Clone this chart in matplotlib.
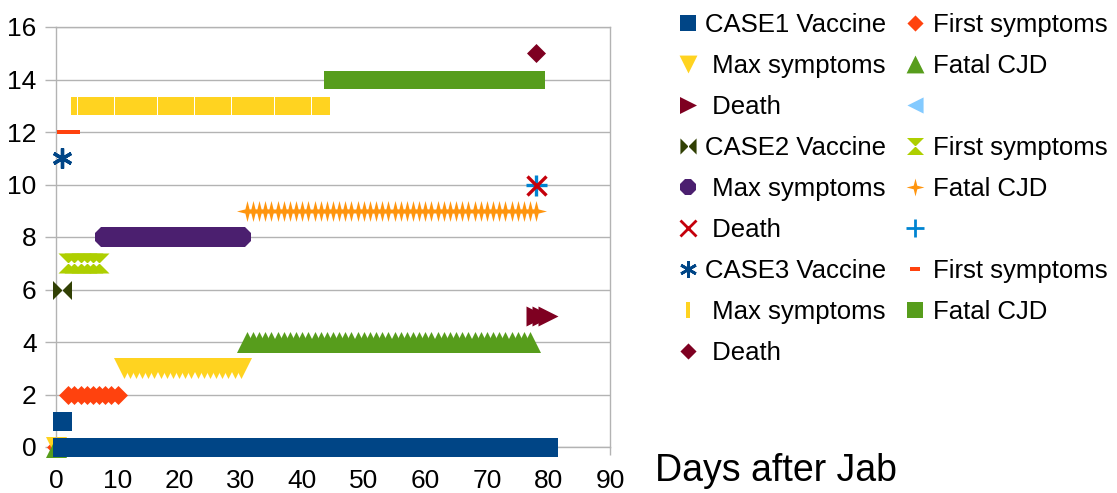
import matplotlib
matplotlib.use('Agg')
import matplotlib.pyplot as plt
import numpy as np
from matplotlib.lines import Line2D

plt.rcParams['font.family'] = ['Liberation Sans', 'DejaVu Sans']

# ---------------- data ----------------
# Series in legend order (row-major, two columns)
labels = ['CASE1 Vaccine', 'First symptoms', ' Max symptoms', 'Fatal CJD', ' Death', '',
          'CASE2 Vaccine', 'First symptoms', ' Max symptoms', 'Fatal CJD', ' Death', '',
          'CASE3 Vaccine', 'First symptoms', ' Max symptoms', 'Fatal CJD', ' Death']
colors = ['#004586', '#ff420e', '#ffd320', '#579d1c', '#7e0021', '#83caff',
          '#314004', '#aecf00', '#4b1f6f', '#ff950e', '#c5000b', '#0084d1',
          '#004586', '#ff420e', '#ffd320', '#579d1c', '#7e0021']
# Each series is made of runs of daily points: first day, last day, plotted level
run_first = [[1, 1], [0, 2], [0, 11], [0, 31], [78], [], [1], [2], [8], [31], [78], [78],
             [1], [1], [3], [45], [78]]
run_last = [[1, 80], [0, 10], [0, 30], [0, 77], [80], [], [1], [7], [30], [78], [78], [78],
            [1], [3], [44], [78], [78]]
run_level = [[1, 0], [0, 2], [0, 3], [0, 4], [5], [], [6], [7], [8], [9], [10], [10],
             [11], [12], [13], [14], [15]]

x_ticks = [0, 10, 20, 30, 40, 50, 60, 70, 80, 90]
y_ticks = [0, 2, 4, 6, 8, 10, 12, 14, 16]
x_title = 'Days after Jab'

# ---------------- marker shapes ----------------
sq = [(-1, -1), (1, -1), (1, 1), (-1, 1), (-1, -1)]
diam = [(0, 1), (1, 0), (0, -1), (-1, 0), (0, 1)]
tri_d = [(-1, 1), (1, 1), (0, -1), (-1, 1)]
tri_u = [(-1, -1), (1, -1), (0, 1), (-1, -1)]
tri_r = [(-1, -1), (1, 0), (-1, 1), (-1, -1)]
tri_l = [(1, -1), (-1, 0), (1, 1), (1, -1)]
bowtie = [(-1, -1), (1, 1), (1, -1), (-1, 1), (-1, -1)]
hourglass = [(-1, 1), (1, 1), (-1, -1), (1, -1), (-1, 1)]
star4 = [(0, 1), (0.2, 0.2), (1, 0), (0.2, -0.2), (0, -1), (-0.2, -0.2), (-1, 0), (-0.2, 0.2), (0, 1)]
dash = [(-1, -0.36), (1, -0.36), (1, 0.36), (-1, 0.36), (-1, -0.36)]
vbar = [(-0.3, -1), (0.3, -1), (0.3, 1), (-0.3, 1), (-0.3, -1)]

markers = [sq, diam, tri_d, tri_u, tri_r, tri_l, bowtie, hourglass, '8', star4, 'x', '+',
           (6, 2, 0), dash, vbar, sq, diam]
msize_px = [19, 19, 21, 21, 20, 19, 19, 20, 21, 21, 19, 21, 20, 11, 18, 18, 19]
line_marker = {10, 11, 12}

PX = 72 / 100.0

fig = plt.figure(figsize=(11.17, 4.93), dpi=100)
ax = fig.add_axes([56 / 1117, 1 - 447 / 493, (610 - 56) / 1117, (447 - 27) / 493])

grid_c = '#b3b3b3'
for i in range(len(labels)):
    for f, l, lv in zip(run_first[i], run_last[i], run_level[i]):
        days = np.arange(f, l + 1)
        yv = np.full(len(days), lv)
        z = 2.5 if (lv == 0 and i != 0) else 3 + i * 0.01
        if i == 10:
            z = 3.5
        kw = dict(linestyle='none', marker=markers[i], markersize=msize_px[i] * PX,
                  clip_on=False, zorder=z)
        if i in line_marker:
            kw.update(markeredgecolor=colors[i], markeredgewidth=2.4)
        else:
            kw.update(markerfacecolor=colors[i], markeredgewidth=0)
        ax.plot(days, yv, **kw)

ax.set_xlim(0, 90)
ax.set_ylim(0, 16)
ax.set_xticks(x_ticks)
ax.set_yticks(y_ticks)
ax.yaxis.grid(True, color=grid_c, linewidth=1)
ax.set_axisbelow(True)
for s in ax.spines.values():
    s.set_color(grid_c)
    s.set_linewidth(1)
ax.tick_params(axis='y', length=8, width=1, color=grid_c, pad=6, labelsize=19)
ax.tick_params(axis='x', length=6, width=1, color=grid_c, pad=10, labelsize=19)

fig.text(655 / 1117, 1 - 481 / 493, x_title, fontsize=27, va='baseline', ha='left')

handles = []
for i in range(len(labels)):
    if i in line_marker:
        h = Line2D([], [], linestyle='none', marker=markers[i], markersize=msize_px[i] * PX,
                   markeredgecolor=colors[i], markeredgewidth=2.0)
    else:
        h = Line2D([], [], linestyle='none', marker=markers[i], markersize=msize_px[i] * PX,
                   markerfacecolor=colors[i], markeredgewidth=0)
    handles.append(h)
order = list(range(0, len(labels), 2)) + list(range(1, len(labels), 2))
leg = fig.legend([handles[k] for k in order], [labels[k] for k in order], ncol=2,
                 loc='upper left', bbox_to_anchor=(679 / 1117, 1 - 13 / 493),
                 frameon=False, fontsize=18.5, markerscale=0.85, handlelength=0.68,
                 handletextpad=0.33, columnspacing=0.8, labelspacing=0.66, borderpad=0,
                 borderaxespad=0)

fig.savefig('out.png', dpi=100)
